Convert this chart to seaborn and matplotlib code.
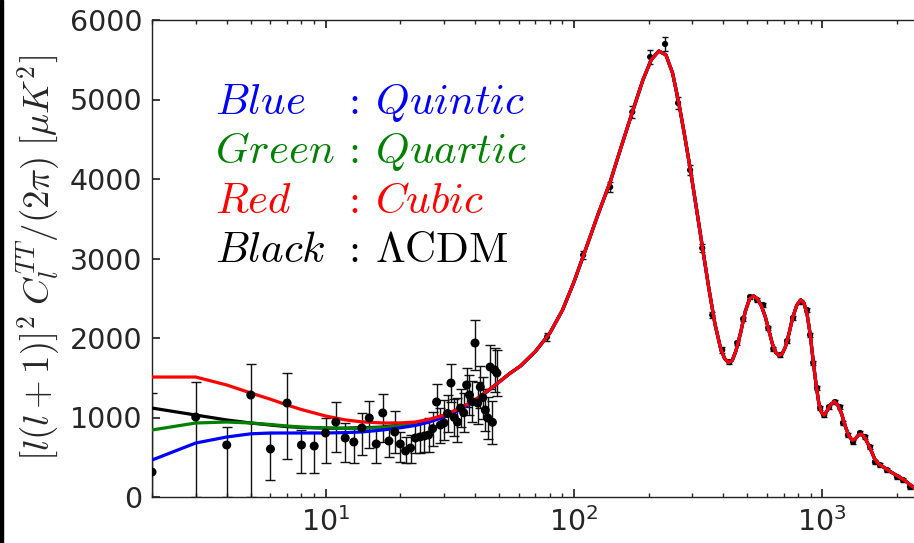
import numpy as np
import pandas as pd
import matplotlib
matplotlib.use("Agg")
import matplotlib.pyplot as plt
import seaborn as sns
from matplotlib.patches import Rectangle

# ---------------- data ----------------
# low-l (unbinned) measurements
l_low = [2, 3, 4, 5, 6, 7, 8, 9, 10, 11, 12, 13, 14, 15, 16, 17, 18, 19, 20, 21, 22, 23, 24, 25,
         26, 27, 28, 29, 30, 31, 32, 33, 34, 35, 36, 37, 38, 39, 40, 41, 42, 43, 44, 45, 46, 47, 48, 49]
c_low = [314, 1006, 654, 1283, 604, 1182, 654, 641, 805, 943, 742, 692, 868, 994, 667, 1057, 704, 818,
         667, 579, 616, 742, 755, 767, 780, 860, 1195, 905, 931, 1050, 1434, 1000, 943, 1120, 1060, 1409,
         1283, 1200, 1937, 1182, 1384, 1250, 1094, 994, 1635, 940, 1597, 1560]
err_low_hi = [1000, 440, 226, 390, 200, 378, 190, 177, 190, 252, 189, 188, 189, 214, 201, 239, 202, 264,
              151, 176, 164, 189, 200, 205, 210, 215, 226, 220, 289, 230, 239, 235, 302, 240, 245, 214,
              250, 255, 289, 260, 262, 265, 268, 270, 275, 272, 280, 285]
err_low_lo = [314, 1006, 654, 1283, 390, 704, 352, 339, 377, 377, 302, 264, 340, 378, 239, 365, 201, 265,
              227, 151, 188, 189, 200, 205, 210, 215, 201, 220, 214, 230, 239, 235, 251, 240, 245, 277,
              250, 255, 340, 260, 262, 265, 268, 270, 275, 272, 280, 285]

# high-l (binned) measurements
l_high = [78, 109, 140, 172, 203, 233, 263, 294, 329, 361, 396, 423, 455, 481, 513, 547, 579, 607, 636,
          678, 723, 764, 823, 870, 895, 921, 955, 982, 1019, 1067, 1128, 1181, 1214, 1271, 1333, 1422,
          1490, 1560, 1633, 1710, 1824, 2003, 2118, 2260]
c_high = [2013, 3044, 3899, 4843, 5535, 5698, 4956, 4113, 3132, 2289, 1849, 1698, 1937, 2239, 2516, 2478,
          2415, 2126, 1862, 1786, 1962, 2252, 2453, 2352, 2038, 1686, 1371, 1119, 1031, 1132, 1195, 1132,
          931, 780, 692, 805, 755, 629, 440, 403, 340, 252, 214, 126]
err_high = [45, 55, 65, 75, 85, 90, 80, 65, 50, 40, 35, 30, 30, 30, 30, 30, 30, 30, 30, 30, 30, 30, 30, 30,
            30, 30, 30, 30, 30, 30, 30, 30, 30, 30, 30, 30, 30, 30, 30, 30, 30, 30, 30, 30]

# model curves: low-l parts (l = 2 ... 55)
l_mod_low = [2, 3, 4, 5, 6, 7, 8, 10, 12, 14, 17, 20, 23, 26, 30, 35, 40, 45, 50, 55]
c_cubic_low = [1509, 1509, 1409, 1308, 1230, 1157, 1100, 1019, 970, 945, 931, 932, 943, 975, 1031, 1120,
               1220, 1335, 1447, 1550]
c_quartic_low = [843, 931, 943, 931, 912, 893, 880, 868, 862, 865, 875, 898, 925, 958, 1018, 1115,
                 1218, 1335, 1447, 1550]
c_quintic_low = [465, 679, 755, 795, 805, 805, 805, 805, 810, 818, 843, 870, 900, 940, 1005, 1100,
                 1210, 1330, 1445, 1550]
c_lcdm_low = [1119, 1031, 969, 931, 905, 885, 875, 866, 866, 870, 880, 905, 930, 962, 1022, 1117,
              1219, 1335, 1447, 1550]

# shared high-l part of all models
l_mod_high = [61, 70, 80, 90, 100, 110, 125, 140, 155, 172, 190, 205, 220, 235, 250, 265, 280, 295, 310,
              330, 350, 370, 390, 405, 420, 435, 450, 470, 490, 510, 530, 550, 570, 590, 610, 630, 650,
              670, 690, 710, 735, 760, 790, 820, 845, 870, 895, 920, 945, 970, 995, 1020, 1050, 1080,
              1120, 1160, 1200, 1240, 1280, 1320, 1360, 1400, 1440, 1480, 1530, 1580, 1630, 1700, 1780,
              1860, 1950, 2050, 2150, 2250, 2350, 2500, 2700]
c_mod_high = [1648, 1830, 2060, 2350, 2700, 3060, 3550, 3960, 4400, 4840, 5250, 5500, 5610, 5560, 5330,
              4950, 4530, 4110, 3680, 3130, 2620, 2180, 1870, 1740, 1690, 1720, 1840, 2070, 2330, 2490,
              2530, 2490, 2400, 2270, 2100, 1930, 1820, 1780, 1800, 1880, 2050, 2250, 2410, 2480, 2440,
              2300, 2050, 1720, 1420, 1180, 1060, 1030, 1090, 1160, 1200, 1150, 1040, 890, 775, 715, 730,
              780, 790, 755, 670, 575, 475, 410, 370, 330, 290, 250, 210, 160, 115, 80, 50]

legend_left = [r"$Blue$", r"$Green$", r"$Red$", r"$Black$"]
legend_right = [r"$Quintic$", r"$Quartic$", r"$Cubic$", r"$\Lambda\mathrm{CDM}$"]
legend_colors = ["#0000ff", "#008000", "#ff0000", "#000000"]

y_ticks = [0, 1000, 2000, 3000, 4000, 5000, 6000]

# ---------------- style ----------------
sns.set_theme(style="ticks")
plt.rcParams.update({
    "xtick.direction": "in", "ytick.direction": "in",
    "xtick.top": True, "ytick.right": True,
    "xtick.major.size": 6, "xtick.minor.size": 3,
    "ytick.major.size": 6, "ytick.minor.size": 3,
    "axes.edgecolor": "#222222", "axes.linewidth": 1.0,
    "mathtext.fontset": "dejavusans",
})
plt.rcParams["font.family"] = ["DejaVu Sans"]

fig = plt.figure(figsize=(9.14, 5.43), dpi=100)
ax = fig.add_axes([152 / 914, 46 / 543, (930 - 152) / 914, 477 / 543])
ax.set_xscale("log")

def model(low):
    return pd.DataFrame({"l": l_mod_low + l_mod_high, "C": low + c_mod_high})

for low, col in [(c_lcdm_low, "#000000"), (c_quartic_low, "#008000"),
                 (c_quintic_low, "#0000ff"), (c_cubic_low, "#ff0000")]:
    d = model(low)
    sns.lineplot(data=d, x="l", y="C", color=col, lw=2.3, sort=False,
                 estimator=None, ax=ax, zorder=3)

# error bars and points
ax.errorbar(l_low, c_low, yerr=[err_low_lo, err_low_hi], fmt="none", ecolor="#111111",
            elinewidth=1.0, capsize=3.5, capthick=1.0, zorder=2)
ax.errorbar(l_high, c_high, yerr=err_high, fmt="none", ecolor="#111111",
            elinewidth=1.0, capsize=2, capthick=1.0, zorder=2)
sns.scatterplot(x=l_low, y=c_low, color="black", s=42, edgecolor="none", ax=ax, zorder=4)
sns.scatterplot(x=l_high, y=c_high, color="black", s=20, edgecolor="none", ax=ax, zorder=2.5)

ax.set_xlim(2, 2720)
ax.set_ylim(0, 6000)
ax.set_yticks(y_ticks)
ax.tick_params(axis="both", which="major", labelsize=20.5, pad=7)
ax.set_xlabel("")
ax.set_ylabel(r"$[l(l+1)]^2\;C_l^{TT}/(2\pi)\;[\mu K^2]$", fontsize=26.5,
              math_fontfamily="cm", labelpad=5)

# text legend
ys = [0.803, 0.700, 0.595, 0.493]
for left, right, col, y in zip(legend_left, legend_right, legend_colors, ys):
    ax.text(0.081, y, left, color=col, fontsize=31, math_fontfamily="cm",
            transform=ax.transAxes, va="baseline", ha="left")
    ax.text(0.243, y, r"$:$", color=col, fontsize=31, math_fontfamily="cm",
            transform=ax.transAxes, va="baseline", ha="left")
    ax.text(0.286, y, right, color=col, fontsize=31, math_fontfamily="cm",
            transform=ax.transAxes, va="baseline", ha="left")

fig.add_artist(Rectangle((0, 0), 3 / 914, 1, color="black", transform=fig.transFigure))

fig.savefig("out.png", dpi=100)
